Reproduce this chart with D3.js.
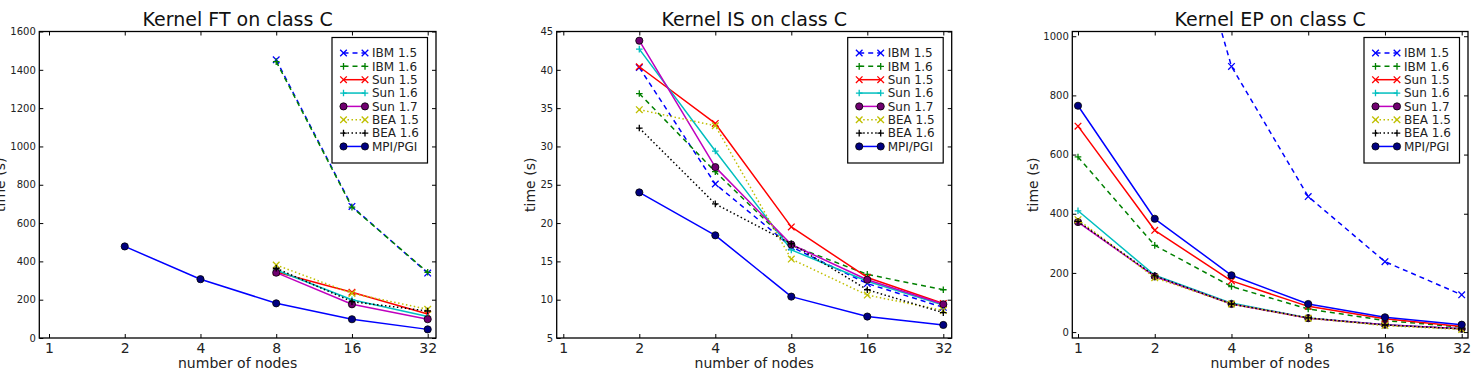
<!DOCTYPE html>
<html>
<head>
<meta charset="utf-8">
<script src="https://cdn.jsdelivr.net/npm/d3@7"></script>
<style>
  html, body { margin: 0; padding: 0; background: #fff; }
  svg { display: block; font-family: "DejaVu Sans", sans-serif; }
</style>
</head>
<body>
<svg id="chart" width="1473" height="377"></svg>
<script>
// ---------------- DATA ----------------
const nodes = [1, 2, 4, 8, 16, 32];
const nodeLabels = ["1", "2", "4", "8", "16", "32"];
const seriesNames = ["IBM 1.5", "IBM 1.6", "Sun 1.5", "Sun 1.6", "Sun 1.7", "BEA 1.5", "BEA 1.6", "MPI/PGI"];

// Kernel FT (values per node count, null = not measured)
const ftIBM15 = [null, null, null, 1452, 687, 339];
const ftIBM16 = [null, null, null, 1443, 683, 343];
const ftSun15 = [null, null, null, 345, 239, 125];
const ftSun16 = [null, null, null, 355, 200, 112];
const ftSun17 = [null, null, null, 341, 176, 98];
const ftBEA15 = [null, null, null, 381, 233, 150];
const ftBEA16 = [null, null, null, 364, 190, 141];
const ftMPI   = [null, 478, 307, 181, 98, 45];

// Kernel IS
const isIBM15 = [null, 40.3, 25.1, 16.9, 12.1, 9.0];
const isIBM16 = [null, 36.9, 26.7, 17.1, 13.3, 11.3];
const isSun15 = [null, 40.4, 33.0, 19.5, 12.9, 9.5];
const isSun16 = [null, 42.7, 29.4, 16.5, 12.4, 9.3];
const isSun17 = [null, 43.8, 27.3, 17.2, 12.6, 9.4];
const isBEA15 = [null, 34.8, 32.7, 15.3, 10.6, 8.6];
const isBEA16 = [null, 32.4, 22.5, 17.3, 11.3, 8.3];
const isMPI   = [null, 24.0, 18.4, 10.4, 7.8, 6.7];

// Kernel EP
const epIBM15 = [null, 1800, 898, 458, 238, 126];
const epIBM16 = [592, 293, 154, 78, 39, 17];
const epSun15 = [696, 344, 173, 87, 45, 19];
const epSun16 = [410, 192, 98, 48, 25, 11];
const epSun17 = [372, 188, 95, 47, 25, 11];
const epBEA15 = [380, 184, 95, 47, 22, 9];
const epBEA16 = [374, 190, 95, 48, 24, 11];
const epMPI   = [765, 383, 192, 95, 50, 25];

const ftTicks = [0, 200, 400, 600, 800, 1000, 1200, 1400, 1600];
const isTicks = [5, 10, 15, 20, 25, 30, 35, 40, 45];
const epTicks = [0, 200, 400, 600, 800, 1000];

const titles = ["Kernel FT on class C", "Kernel IS on class C", "Kernel EP on class C"];
const xLabel = "number of nodes";
const yLabel = "time (s)";

// ---------------- STYLES ----------------
const styles = {
  "IBM 1.5": { color: "#0000ff", dash: "5,4", marker: "x", fill: "none" },
  "IBM 1.6": { color: "#008000", dash: "5,4", marker: "+", fill: "none" },
  "Sun 1.5": { color: "#ff0000", dash: null, marker: "x", fill: "none" },
  "Sun 1.6": { color: "#00bfbf", dash: null, marker: "+", fill: "none" },
  "Sun 1.7": { color: "#bf00bf", dash: null, marker: "o", fill: "#700070" },
  "BEA 1.5": { color: "#bfbf00", dash: "1.5,2.5", marker: "x", fill: "none" },
  "BEA 1.6": { color: "#000000", dash: "1.5,2.5", marker: "+", fill: "none" },
  "MPI/PGI": { color: "#0000ff", dash: null, marker: "o", fill: "#000080" }
};

const panels = [
  { title: titles[0], axL: 39.3, axR: 436, x1: 49, x32: 427.7, yDom: [0, 1600], yTicks: ftTicks,
    series: [ftIBM15, ftIBM16, ftSun15, ftSun16, ftSun17, ftBEA15, ftBEA16, ftMPI] },
  { title: titles[1], axL: 556.7, axR: 951.7, x1: 563.3, x32: 943.3, yDom: [5, 45], yTicks: isTicks,
    series: [isIBM15, isIBM16, isSun15, isSun16, isSun17, isBEA15, isBEA16, isMPI] },
  { title: titles[2], axL: 1072.3, axR: 1468, x1: 1078, x32: 1461.7, yDom: [-20, 1016], yTicks: epTicks,
    series: [epIBM15, epIBM16, epSun15, epSun16, epSun17, epBEA15, epBEA16, epMPI] }
];

const axT = 31.5, axB = 338;
const svg = d3.select("#chart");

function drawMarker(g, type, x, y, st) {
  const s = 3.3;
  if (type === "o") {
    g.append("circle").attr("cx", x).attr("cy", y).attr("r", 3.6)
      .attr("fill", st.fill).attr("stroke", "#000").attr("stroke-width", 0.8);
  } else if (type === "x") {
    g.append("path").attr("d", `M${x - s},${y - s}L${x + s},${y + s}M${x - s},${y + s}L${x + s},${y - s}`)
      .attr("stroke", st.color).attr("stroke-width", 1.3).attr("fill", "none");
  } else {
    g.append("path").attr("d", `M${x - s},${y}L${x + s},${y}M${x},${y - s}L${x},${y + s}`)
      .attr("stroke", st.color).attr("stroke-width", 1.3).attr("fill", "none");
  }
}

panels.forEach((p, pi) => {
  const x = d3.scaleLog().base(2).domain([1, 32]).range([p.x1, p.x32]);
  const y = d3.scaleLinear().domain(p.yDom).range([axB, axT]);
  const g = svg.append("g");

  const clipId = "clip" + pi;
  svg.append("defs").append("clipPath").attr("id", clipId)
    .append("rect").attr("x", p.axL).attr("y", axT).attr("width", p.axR - p.axL).attr("height", axB - axT);

  // data
  const plot = g.append("g").attr("clip-path", `url(#${clipId})`);
  seriesNames.forEach((name, si) => {
    const st = styles[name];
    const pts = nodes.map((n, i) => ({ n, v: p.series[si][i] })).filter(d => d.v != null);
    const line = d3.line().x(d => x(d.n)).y(d => y(d.v));
    plot.append("path").attr("d", line(pts)).attr("fill", "none")
      .attr("stroke", st.color).attr("stroke-width", 1.5)
      .attr("stroke-dasharray", st.dash).attr("stroke-linejoin", "round");
    pts.forEach(d => drawMarker(plot, st.marker, x(d.n), y(d.v), st));
  });

  // axes
  const xb = g.append("g").attr("transform", `translate(0,${axB})`)
    .call(d3.axisBottom(x).tickValues(nodes).tickFormat((d, i) => nodeLabels[i])
      .tickSizeInner(-4).tickSizeOuter(0).tickPadding(5.5));
  const xt = g.append("g").attr("transform", `translate(0,${axT})`)
    .call(d3.axisTop(x).tickValues(nodes).tickFormat("").tickSizeInner(-4).tickSizeOuter(0));
  const yl = g.append("g").attr("transform", `translate(${p.axL},0)`)
    .call(d3.axisLeft(y).tickValues(p.yTicks).tickFormat(d3.format("d"))
      .tickSizeInner(-4).tickSizeOuter(0).tickPadding(3.5));
  const yr = g.append("g").attr("transform", `translate(${p.axR},0)`)
    .call(d3.axisRight(y).tickValues(p.yTicks).tickFormat("").tickSizeInner(-4).tickSizeOuter(0));
  [xb, xt, yl, yr].forEach(a => {
    a.select(".domain").remove();
    a.selectAll(".tick line").attr("stroke", "#000").attr("stroke-width", 1);
  });
  xb.selectAll("text").attr("font-size", 14).attr("fill", "#222").attr("font-family", "DejaVu Sans");
  yl.selectAll("text").attr("font-size", 10).attr("fill", "#222").attr("font-family", "DejaVu Sans");

  // frame
  g.append("rect").attr("x", p.axL).attr("y", axT).attr("width", p.axR - p.axL).attr("height", axB - axT)
    .attr("fill", "none").attr("stroke", "#000").attr("stroke-width", 1.3);

  // title
  g.append("text").attr("x", (p.axL + p.axR) / 2).attr("y", 26).attr("text-anchor", "middle")
    .attr("font-size", 19).attr("fill", "#111").text(p.title);

  // x label
  g.append("text").attr("x", (p.axL + p.axR) / 2).attr("y", 367.5).attr("text-anchor", "middle")
    .attr("font-size", 14).attr("fill", "#222").text(xLabel);

  // y label
  const bb = yl.node().getBBox();
  const labX = p.axL + bb.x - 5;
  g.append("text").attr("transform", `translate(${labX},${(axT + axB) / 2}) rotate(-90)`)
    .attr("text-anchor", "middle").attr("font-size", 14).attr("fill", "#222").text(yLabel);

  // legend
  const lw = 95.5, lh = 125.5;
  const lx = p.axR - 8.5 - lw, ly = axT + 6;
  const lg = g.append("g");
  lg.append("rect").attr("x", lx).attr("y", ly).attr("width", lw).attr("height", lh)
    .attr("fill", "#fff").attr("stroke", "#000").attr("stroke-width", 1.2);
  seriesNames.forEach((name, si) => {
    const st = styles[name];
    const ry = ly + 15.5 + si * 13.35;
    const m1 = lx + 11.5, m2 = lx + 33;
    lg.append("line").attr("x1", m1).attr("x2", m2).attr("y1", ry).attr("y2", ry)
      .attr("stroke", st.color).attr("stroke-width", 1.5).attr("stroke-dasharray", st.dash);
    drawMarker(lg, st.marker, m1, ry, st);
    drawMarker(lg, st.marker, m2, ry, st);
    lg.append("text").attr("x", lx + 40).attr("y", ry).attr("dy", "0.36em")
      .attr("font-size", 12).attr("fill", "#222").text(name);
  });
});
</script>
</body>
</html>
